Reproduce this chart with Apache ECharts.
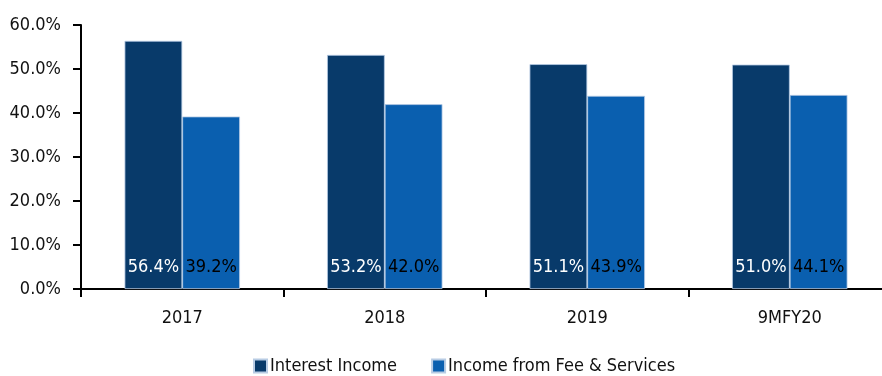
<!DOCTYPE html>
<html>
<head>
<meta charset="utf-8">
<script src="https://cdn.jsdelivr.net/npm/echarts@6/dist/echarts.min.js"></script>
<style>
  html, body { margin: 0; padding: 0; background: #ffffff; overflow: hidden; }
  #chart { width: 882px; height: 376px; }
</style>
</head>
<body>
<div id="chart"></div>
<script>
// Income mix by period (% of total income)
const categories = ['2017', '2018', '2019', '9MFY20'];
const interestIncome = [56.4, 53.2, 51.1, 51.0];
const feeIncome = [39.2, 42.0, 43.9, 44.1];
const seriesNames = ['Interest Income', 'Income from Fee & Services'];

const FONT = '"DejaVu Sans Condensed", "Liberation Sans Narrow", "Roboto", sans-serif';
const FS = 18;
const pct = v => v.toFixed(1) + '%';

const chart = echarts.init(document.getElementById('chart'), null, { renderer: 'canvas' });

function barSeries(name, data, color, labelColor) {
  return {
    name: name,
    type: 'bar',
    data: data,
    barGap: '0%',
    barCategoryGap: '43%',
    itemStyle: { color: color, borderColor: '#b8cce4', borderWidth: 0.8 },
    label: {
      show: true,
      position: 'insideBottom',
      distance: 13,
      color: labelColor,
      fontFamily: FONT,
      fontSize: FS,
      formatter: p => pct(p.value)
    },
    emphasis: { disabled: true }
  };
}

chart.setOption({
  animation: false,
  textStyle: { fontFamily: FONT },
  // the plot runs a little past the right edge of the canvas
  grid: { left: 81, width: 810, top: 25, bottom: 87, containLabel: false, outerBoundsMode: 'none' },
  legend: {
    top: 352,
    left: 248,
    itemWidth: 13,
    itemHeight: 13,
    itemGap: 34,
    icon: 'rect',
    textStyle: { fontFamily: FONT, fontSize: FS, color: '#111', padding: [0, 0, 0, -2] },
    data: seriesNames
  },
  xAxis: {
    type: 'category',
    data: categories,
    axisLine: { lineStyle: { color: '#000', width: 2 } },
    axisTick: { show: true, length: 8, lineStyle: { color: '#000', width: 2 } },
    axisLabel: { color: '#111', fontFamily: FONT, fontSize: FS, margin: 20 }
  },
  yAxis: {
    type: 'value',
    min: 0,
    max: 60,
    interval: 10,
    splitLine: { show: false },
    axisLine: { show: true, lineStyle: { color: '#000', width: 2 } },
    axisTick: { show: true, length: 8, lineStyle: { color: '#000', width: 2 } },
    axisLabel: { color: '#111', fontFamily: FONT, fontSize: FS, margin: 20, formatter: v => pct(v) }
  },
  series: [
    barSeries(seriesNames[0], interestIncome, '#083a6a', '#ffffff'),
    barSeries(seriesNames[1], feeIncome, '#0a5faf', '#000000')
  ]
});
</script>
</body>
</html>
